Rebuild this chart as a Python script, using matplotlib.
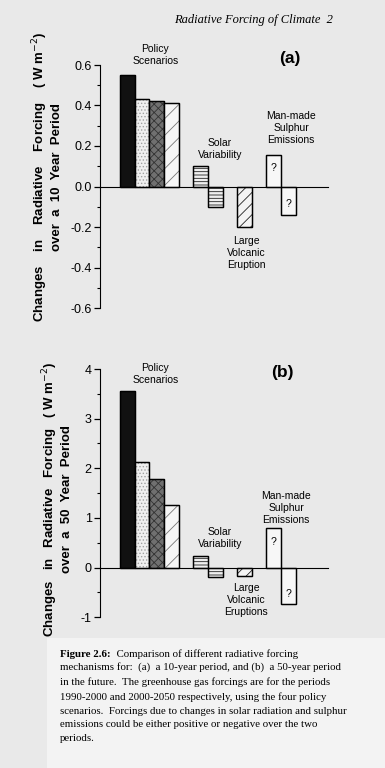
import numpy as np
import matplotlib.pyplot as plt
from matplotlib.colors import to_rgba
from matplotlib.patches import Rectangle
from matplotlib.ticker import MultipleLocator

plt.rcParams['font.family'] = ['Liberation Sans', 'DejaVu Sans']
plt.rcParams['hatch.linewidth'] = 0.6

# --- data (W m-2) ---
groups = ['Policy Scenarios', 'Solar Variability', 'Large Volcanic Eruption', 'Man-made Sulphur Emissions']
slots = [0, 1, 2, 3, 5, 6, 8, 10, 11]          # bar slot index (gaps between groups)

a_policy = [0.55, 0.43, 0.42, 0.41]
a_solar = [0.10, -0.10]
a_volcanic = [-0.20]
a_sulphur = [0.155, -0.14]

b_policy = [3.55, 2.12, 1.79, 1.27]
b_solar = [0.23, -0.18]
b_volcanic = [-0.16]
b_sulphur = [0.79, -0.73]

# fill style per bar: (facecolor, hatch, hatch colour)
styles = [
    ('#111111', None, None),
    ('#f0f0f0', '.....', '#a0a0a0'),
    ('#707070', 'xxxx', '#333333'),
    ('#f6f6f6', '//', '#777777'),
    ('#f0f0f0', '-----', '#222222'),
    ('#f0f0f0', '-----', '#222222'),
    ('#f4f4f4', '///', '#222222'),
    ('#f7f7f7', None, None),
    ('#f7f7f7', None, None),
]

BG = '#e9e9e9'
fig = plt.figure(figsize=(3.85, 7.68), dpi=100, facecolor=BG)

# header
fig.text(333 / 385, 1 - 20 / 768, 'Radiative Forcing of Climate  2', ha='right', va='center',
         fontsize=9, style='italic', family='Liberation Serif')


def draw_panel(ax, values, ylim, major, minor, labels, qpos):
    for x, v, (fc, h, hc) in zip(slots, values, styles):
        b = ax.bar(x, v, width=1, align='edge', color=fc, edgecolor='black', linewidth=0.9)[0]
        if h:
            b.set_hatch(h)
            b._hatch_color = to_rgba(hc)
        ax.bar(x, v, width=1, align='edge', color='none', edgecolor='black', linewidth=0.9)
    ax.set_xlim(-1.37, 14.2)
    ax.set_ylim(*ylim)
    ax.set_facecolor('none')
    for s in ['top', 'right']:
        ax.spines[s].set_visible(False)
    ax.spines['bottom'].set_position(('data', 0))
    ax.spines['left'].set_bounds(*ylim)
    ax.set_xticks([])
    ax.yaxis.set_major_locator(MultipleLocator(major))
    ax.yaxis.set_minor_locator(MultipleLocator(minor))
    ax.tick_params(axis='y', which='major', length=4, width=0.9, labelsize=9, pad=2)
    ax.tick_params(axis='y', which='minor', length=2, width=0.8)
    for (tx, ty, t, kw) in labels:
        ax.text(tx, ty, t, ha='center', va='center', linespacing=1.25, **kw)
    for (qx, qy) in qpos:
        ax.text(qx, qy, '?', ha='center', va='center', fontsize=7.5)


# panel (a)
ax_a = fig.add_axes([100 / 385, 1 - 308 / 768, 228 / 385, 243 / 768])
a_values = a_policy + a_solar + a_volcanic + a_sulphur
draw_panel(ax_a, a_values, (-0.6, 0.6), 0.2, 0.1, [
    (2.4, 0.65, 'Policy\nScenarios', dict(fontsize=7.5)),
    (11.6, 0.632, '(a)', dict(fontsize=12.5, fontweight='bold')),
    (6.83, 0.183, 'Solar\nVariability', dict(fontsize=7.5)),
    (11.68, 0.291, 'Man-made\nSulphur\nEmissions', dict(fontsize=7.5)),
    (8.6, -0.326, 'Large\nVolcanic\nEruption', dict(fontsize=7.5)),
], [(10.5, 0.089), (11.5, -0.084)])
ax_a.yaxis.set_major_formatter(plt.FuncFormatter(lambda v, p: f'{v:.1f}'))

# panel (b)
ax_b = fig.add_axes([100 / 385, 1 - 617.3 / 768, 228 / 385, 248.3 / 768])
b_values = b_policy + b_solar + b_volcanic + b_sulphur
draw_panel(ax_b, b_values, (-1, 4), 1, 0.5, [
    (2.4, 3.89, 'Policy\nScenarios', dict(fontsize=7.5)),
    (11.1, 3.92, '(b)', dict(fontsize=12.5, fontweight='bold')),
    (6.83, 0.59, 'Solar\nVariability', dict(fontsize=7.5)),
    (11.34, 1.2, 'Man-made\nSulphur\nEmissions', dict(fontsize=7.5)),
    (8.6, -0.66, 'Large\nVolcanic\nEruptions', dict(fontsize=7.5)),
], [(10.5, 0.51), (11.5, -0.54)])
ax_b.yaxis.set_major_formatter(plt.FuncFormatter(lambda v, p: f'{v:.0f}'))

# y labels
fig.text(47 / 385, 1 - 177 / 768,
         'Changes    in    Radiative    Forcing    ( W m$^{-2}$)\nover  a  10  Year  Period',
         rotation=90, ha='center', va='center', fontsize=9.5, fontweight='bold', linespacing=1.15)
fig.text(57 / 385, 1 - 499 / 768,
         'Changes   in   Radiative   Forcing   ( W m$^{-2}$)\nover  a  50  Year  Period',
         rotation=90, ha='center', va='center', fontsize=9.5, fontweight='bold', linespacing=1.15)

# caption box
fig.patches.append(Rectangle((47 / 385, 0), 1, 1 - 638 / 768, transform=fig.transFigure,
                             facecolor='#f3f3f3', edgecolor='none', zorder=0))
cap_x = 60 / 385
serif = 'Liberation Serif'
cap_fs = 7.8
t0 = fig.text(cap_x, 1 - 657 / 768, 'Figure 2.6:', fontsize=cap_fs, fontweight='bold',
              family=serif, va='baseline')
renderer = fig.canvas.get_renderer()
bb = t0.get_window_extent(renderer=renderer)
fig.text(bb.x1 / fig.bbox.width, 1 - 657 / 768, '  Comparison of different radiative forcing',
         fontsize=cap_fs, family=serif, va='baseline')
caption_rest = ('mechanisms for:  (a)  a 10-year period, and (b)  a 50-year period\n'
                'in the future.  The greenhouse gas forcings are for the periods\n'
                '1990-2000 and 2000-2050 respectively, using the four policy\n'
                'scenarios.  Forcings due to changes in solar radiation and sulphur\n'
                'emissions could be either positive or negative over the two\n'
                'periods.')
fig.text(cap_x, 1 - 662 / 768, caption_rest, fontsize=cap_fs, family=serif, va='top',
         linespacing=1.68)

fig.savefig('out.png', dpi=100, facecolor=BG)
